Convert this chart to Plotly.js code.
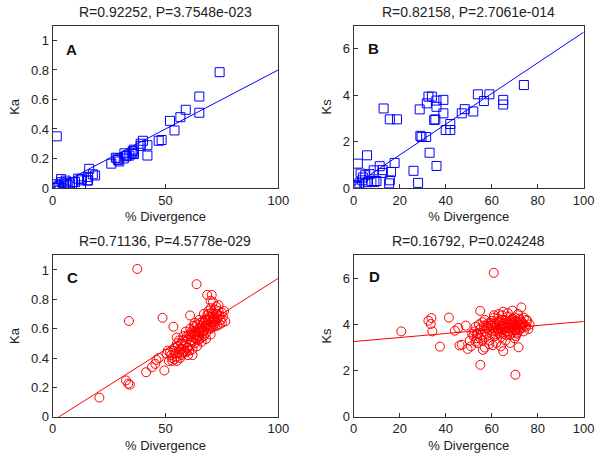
<!DOCTYPE html>
<html>
<head>
<meta charset="utf-8">
<script src="https://cdn.plot.ly/plotly-3.0.1.min.js"></script>
<style>
  body { margin: 0; background: #fff; }
  #grafico { width: 600px; height: 461px; }
</style>
</head>
<body>
<div id="grafico"></div>
<script>
'use strict';

/* Panels A y B - genes cercanos (cuadros azules) */
let divAB = [74, 65, 65, 59, 56.6, 54, 52, 48.3, 47, 42,
    42, 40, 39, 39, 36, 36, 35.5, 35, 34, 33,
    32.5, 31.8, 36, 31.5, 29.5, 28.7, 28, 26, 29, 13,
    15.7, 18.8, 17.8, 16.2, 15.7, 15.4, 11.3, 12.6, 12.6, 9,
    8.7, 5.8, 1.8, 3, 5, 3.7, 4, 1.5, 1.2, 0.7,
    6.2, 7.7, 6.9, 9.9, 2.5];
let kaAB = [0.785, 0.62, 0.51, 0.53, 0.48, 0.39, 0.455, 0.325, 0.32, 0.22,
    0.29, 0.32, 0.285, 0.30, 0.26, 0.23, 0.25, 0.235, 0.22, 0.22,
    0.215, 0.235, 0.24, 0.20, 0.18, 0.20, 0.205, 0.165, 0.19, 0.063,
    0.075, 0.085, 0.093, 0.13, 0.052, 0.05, 0.063, 0.052, 0.018, 0.04,
    0.04, 0.05, 0.35, 0.018, 0.03, 0.06, 0.04, 0.025, 0.002, 0,
    0.03, 0.03, 0.018, 0.04, 0.01];
let ksAB = [4.44, 3.8, 3.6, 4.04, 3.75, 4.04, 3.3, 3.4, 3.22, 2.5,
    2.76, 2.5, 3.22, 3.8, 3.77, 3.5, 2.96, 2.93, 3.94, 1.52,
    3.94, 3.65, 0.95, 2.2, 2.2, 3.39, 0.22, 0.74, 2.25, 3.43,
    2.96, 2.96, 1.08, 0.69, 0.33, 0.2, 0.94, 0.77, 0.65, 0.26,
    0.76, 1.41, 1.05, 0.62, 0.55, 0.33, 0.45, 0.12, 0.05, 0.1,
    0.25, 0.3, 0.6, 0.3, 0.2];

/* Panels C y D - genes lejanos (circulos rojos) */
let divCD = [20.7, 32.5, 33.5, 33.8, 34.2, 37.5, 41.4, 44, 45.5, 46,
    47, 48.7, 49.5, 50.5, 51, 53.5, 55.1, 55, 56.2, 60.9,
    63.8, 68.5, 70.5, 70.3, 72.9, 71.7, 65, 76,
    52, 52.5, 53, 53.5, 54, 54, 54.5, 55, 55.5, 56,
    56, 56.5, 57, 57, 57.5, 58, 58, 58.5, 59, 59,
    59.5, 60, 60, 60.5, 61, 61, 61.5, 62, 62, 62.5,
    63, 63, 63.5, 64, 64, 64.5, 65, 65, 65.5, 66,
    66, 66.5, 67, 67, 67.5, 68, 68, 68.5, 69, 69,
    69.5, 70, 70, 70.5, 71, 71, 71.5, 72, 72, 72.5,
    73, 73.5, 74, 74.5, 75, 75.5, 76.5,
    58, 60, 61.5, 62.5, 63.5, 64.5, 65.5, 66.5, 67.5, 68.5,
    69.5, 70.5, 71.5, 72.5, 73, 57.5, 59.5, 62, 63, 64,
    65, 66, 67, 68, 69, 70, 71, 72, 62, 60.5,
    64, 66, 68, 70, 51.5, 53, 55, 57, 59, 67,
    65, 63, 61, 69, 71, 73.5, 74, 75, 70];
let kaCD = [0.13, 0.247, 0.225, 0.652, 0.218, 1.007, 0.303, 0.337, 0.36, 0.387,
    0.40, 0.674, 0.315, 0.43, 0.45, 0.613, 0.50, 0.54, 0.46, 0.69,
    0.903, 0.83, 0.83, 0.62, 0.70, 0.66, 0.55, 0.72,
    0.44, 0.42, 0.40, 0.45, 0.47, 0.39, 0.43, 0.41, 0.48, 0.44,
    0.52, 0.40, 0.46, 0.50, 0.43, 0.48, 0.55, 0.45, 0.51, 0.58,
    0.47, 0.53, 0.42, 0.56, 0.49, 0.60, 0.52, 0.57, 0.46, 0.54,
    0.61, 0.50, 0.58, 0.55, 0.63, 0.52, 0.60, 0.66, 0.57, 0.62,
    0.54, 0.65, 0.59, 0.70, 0.62, 0.66, 0.57, 0.69, 0.63, 0.72,
    0.60, 0.67, 0.74, 0.64, 0.70, 0.61, 0.68, 0.73, 0.65, 0.70,
    0.67, 0.72, 0.69, 0.66, 0.71, 0.68, 0.65,
    0.44, 0.47, 0.58, 0.62, 0.53, 0.60, 0.64, 0.58, 0.66, 0.61,
    0.68, 0.71, 0.63, 0.75, 0.62, 0.52, 0.55, 0.51, 0.56, 0.58,
    0.53, 0.60, 0.64, 0.62, 0.66, 0.60, 0.67, 0.62, 0.42, 0.45,
    0.48, 0.51, 0.53, 0.56, 0.38, 0.38, 0.38, 0.42, 0.44, 0.55,
    0.58, 0.64, 0.55, 0.70, 0.78, 0.76, 0.63, 0.64, 0.79];
let ksCD = [3.7, 4.16, 4.02, 4.28, 3.70, 3.04, 4.30, 3.73, 3.85, 3.09,
    3.12, 3.95, 2.94, 3.3, 3.05, 3.6, 2.25, 4.59, 2.9, 6.24,
    3.9, 4.2, 4.0, 1.82, 4.74, 3.01, 2.84, 3.8,
    3.5, 3.7, 3.9, 3.4, 3.2, 3.6, 4.0, 3.8, 3.55, 4.1,
    3.3, 3.95, 3.7, 4.2, 3.45, 3.85, 3.6, 4.05, 3.75, 3.3,
    3.95, 4.15, 3.6, 3.85, 4.3, 3.7, 3.5, 4.0, 3.9, 4.25,
    3.65, 3.8, 4.1, 3.45, 3.95, 4.4, 3.75, 4.05, 3.6, 4.2,
    3.9, 3.7, 4.35, 3.85, 4.0, 3.55, 4.15, 3.9, 4.25, 3.65,
    4.05, 3.8, 4.3, 3.5, 4.1, 3.9, 4.45, 3.75, 4.0, 4.2,
    3.85, 4.05, 4.3, 3.95, 3.9, 4.15, 4.0,
    3.9, 3.95, 4.05, 3.8, 3.6, 4.2, 3.85, 4.1, 3.7, 4.0,
    3.9, 4.15, 3.8, 3.95, 4.1, 3.95, 4.05, 3.7, 4.15, 3.8,
    3.95, 3.55, 4.05, 3.85, 4.1, 3.95, 3.65, 4.25, 3.2, 3.1,
    3.05, 3.3, 3.2, 3.4, 3.6, 3.25, 3.4, 3.0, 3.15, 4.5,
    4.55, 4.45, 4.4, 4.6, 3.6, 4.0, 3.7, 4.2, 3.75];

/* Rectas de regresion (extremos en x = 0 y x = 100) */
let rectaX = [0, 100];
let rectaKaAB = [0.0, 0.80];
let rectaKsAB = [0.1, 6.72];
let rectaKaCD = [-0.028, 0.943];
let rectaKsCD = [3.26, 4.13];

let titulos = ['R=0.92252, P=3.7548e-023', 'R=0.82158, P=2.7061e-014',
    'R=0.71136, P=4.5778e-029', 'R=0.16792, P=0.024248'];
let letras = ['A', 'B', 'C', 'D'];

let azul = '#0000ff';
let rojo = '#ff0000';
let fuente = 'Liberation Sans, Arial, Helvetica, sans-serif';

function puntos(x, y, eje, simbolo, color) {
    return {
        type: 'scatter', mode: 'markers', x: x, y: y,
        xaxis: 'x' + eje, yaxis: 'y' + eje,
        marker: { symbol: simbolo, size: 9, color: color, line: { width: 1, color: color } },
        cliponaxis: true, hoverinfo: 'skip'
    };
}

function recta(y, eje, color) {
    return {
        type: 'scatter', mode: 'lines', x: rectaX, y: y,
        xaxis: 'x' + eje, yaxis: 'y' + eje,
        line: { color: color, width: 1 }, hoverinfo: 'skip'
    };
}

let trazas = [
    puntos(divAB, kaAB, '', 'square-open', azul), recta(rectaKaAB, '', azul),
    puntos(divAB, ksAB, '2', 'square-open', azul), recta(rectaKsAB, '2', azul),
    puntos(divCD, kaCD, '3', 'circle-open', rojo), recta(rectaKaCD, '3', rojo),
    puntos(divCD, ksCD, '4', 'circle-open', rojo), recta(rectaKsCD, '4', rojo)
];

function ejeX(dominio, paso, ancla) {
    return {
        domain: dominio, range: [0, 100], dtick: paso, anchor: ancla,
        showline: true, mirror: true, linecolor: '#333', linewidth: 1,
        ticks: 'inside', ticklen: 4, tickcolor: '#333',
        showgrid: false, zeroline: false,
        tickfont: { family: fuente, size: 13, color: '#222' },
        title: { text: '% Divergence', standoff: 5, font: { family: fuente, size: 13, color: '#222' } }
    };
}

function ejeY(dominio, rango, paso, ancla, nombre) {
    return {
        domain: dominio, range: rango, dtick: paso, anchor: ancla,
        showline: true, mirror: true, linecolor: '#333', linewidth: 1,
        ticks: 'inside', ticklen: 4, tickcolor: '#333',
        showgrid: false, zeroline: false,
        tickfont: { family: fuente, size: 13, color: '#222' },
        title: { text: nombre, standoff: 8, font: { family: fuente, size: 13, color: '#222' } }
    };
}

let colIzq = [0.0878, 0.4638];
let colDer = [0.5895, 0.9728];
let filaArr = [0.5922, 0.9443];
let filaAba = [0.0961, 0.4462];

let anotaciones = [];
let centros = [[colIzq, filaArr], [colDer, filaArr], [colIzq, filaAba], [colDer, filaAba]];
for (let i = 0; i < 4; i++) {
    anotaciones.push({
        text: titulos[i], xref: 'paper', yref: 'paper',
        x: (centros[i][0][0] + centros[i][0][1]) / 2, y: centros[i][1][1],
        xanchor: 'center', yanchor: 'bottom', yshift: 4, showarrow: false,
        font: { family: fuente, size: 14, color: '#222' }
    });
}
let posLetra = [[8.5, 0.94], [8.7, 6.03], [8.9, 0.95], [9, 6.06]];
let ejes = ['', '2', '3', '4'];
for (let i = 0; i < 4; i++) {
    anotaciones.push({
        text: '<b>' + letras[i] + '</b>', xref: 'x' + ejes[i], yref: 'y' + ejes[i],
        x: posLetra[i][0], y: posLetra[i][1], showarrow: false,
        font: { family: fuente, size: 15, color: '#111' }
    });
}

let layout = {
    width: 600, height: 461,
    margin: { l: 0, r: 0, t: 0, b: 0 },
    paper_bgcolor: '#fff', plot_bgcolor: '#fff',
    showlegend: false,
    xaxis: ejeX(colIzq, 50, 'y'),
    yaxis: ejeY(filaArr, [0, 1.1], 0.2, 'x', 'Ka'),
    xaxis2: ejeX(colDer, 20, 'y2'),
    yaxis2: ejeY(filaArr, [0, 7], 2, 'x2', 'Ks'),
    xaxis3: ejeX(colIzq, 50, 'y3'),
    yaxis3: ejeY(filaAba, [0, 1.1], 0.2, 'x3', 'Ka'),
    xaxis4: ejeX(colDer, 20, 'y4'),
    yaxis4: ejeY(filaAba, [0, 7], 2, 'x4', 'Ks'),
    annotations: anotaciones
};

Plotly.newPlot('grafico', trazas, layout, { staticPlot: true, displayModeBar: false });
</script>
</body>
</html>
